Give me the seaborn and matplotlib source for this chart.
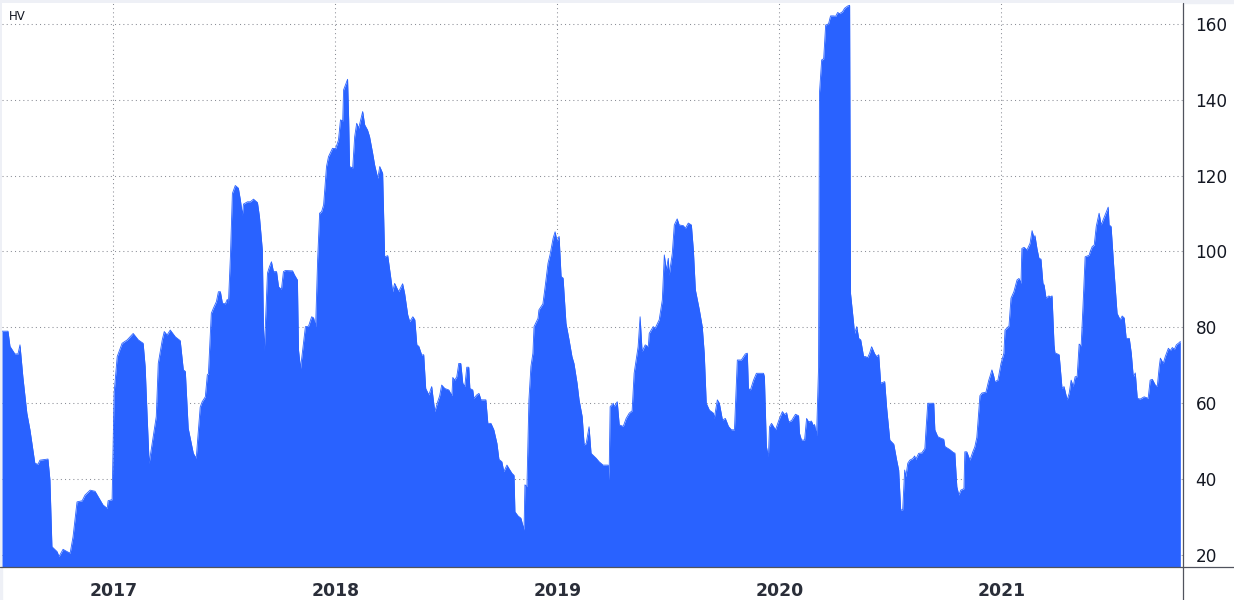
import matplotlib
matplotlib.use("Agg")
import matplotlib.pyplot as plt
import seaborn as sns
import pandas as pd
from matplotlib.lines import Line2D
from matplotlib.patches import Rectangle

# ---- data (time in decimal years, historical volatility values) ----
time_years = [
    2016.498, 2016.525, 2016.534, 2016.556, 2016.570, 2016.579, 2016.592, 2016.610, 2016.624, 2016.646,
    2016.660, 2016.669, 2016.705, 2016.714, 2016.723, 2016.746, 2016.755, 2016.773, 2016.791, 2016.805,
    2016.818, 2016.836, 2016.859, 2016.872, 2016.895, 2016.917, 2016.931, 2016.953, 2016.972, 2016.976,
    2016.994, 2017.003, 2017.017, 2017.039, 2017.062, 2017.089, 2017.112, 2017.134, 2017.143, 2017.152,
    2017.161, 2017.179, 2017.193, 2017.202, 2017.220, 2017.229, 2017.242, 2017.256, 2017.279, 2017.301,
    2017.315, 2017.324, 2017.337, 2017.360, 2017.373, 2017.391, 2017.400, 2017.414, 2017.423, 2017.428,
    2017.441, 2017.450, 2017.464, 2017.473, 2017.482, 2017.491, 2017.504, 2017.513, 2017.518, 2017.527,
    2017.536, 2017.549, 2017.563, 2017.572, 2017.581, 2017.586, 2017.604, 2017.617, 2017.631, 2017.649,
    2017.658, 2017.671, 2017.676, 2017.680, 2017.694, 2017.703, 2017.712, 2017.721, 2017.735, 2017.744,
    2017.757, 2017.766, 2017.775, 2017.807, 2017.816, 2017.829, 2017.834, 2017.843, 2017.856, 2017.865,
    2017.879, 2017.893, 2017.902, 2017.911, 2017.920, 2017.929, 2017.938, 2017.947, 2017.960, 2017.969,
    2017.987, 2018.001, 2018.014, 2018.023, 2018.033, 2018.037, 2018.051, 2018.055, 2018.060, 2018.064,
    2018.078, 2018.087, 2018.096, 2018.105, 2018.123, 2018.132, 2018.145, 2018.154, 2018.168, 2018.177,
    2018.191, 2018.200, 2018.213, 2018.222, 2018.236, 2018.249, 2018.258, 2018.267, 2018.285, 2018.303,
    2018.312, 2018.326, 2018.335, 2018.349, 2018.358, 2018.367, 2018.376, 2018.389, 2018.398, 2018.407,
    2018.421, 2018.434, 2018.439, 2018.448, 2018.461, 2018.470, 2018.479, 2018.493, 2018.511, 2018.525,
    2018.529, 2018.538, 2018.547, 2018.556, 2018.565, 2018.574, 2018.583, 2018.592, 2018.601, 2018.606,
    2018.619, 2018.624, 2018.637, 2018.647, 2018.656, 2018.678, 2018.687, 2018.701, 2018.714, 2018.728,
    2018.737, 2018.750, 2018.759, 2018.773, 2018.782, 2018.796, 2018.805, 2018.809, 2018.823, 2018.836,
    2018.850, 2018.854, 2018.863, 2018.872, 2018.881, 2018.890, 2018.895, 2018.913, 2018.917, 2018.935,
    2018.945, 2018.958, 2018.967, 2018.981, 2018.990, 2018.999, 2019.008, 2019.017, 2019.026, 2019.039,
    2019.053, 2019.066, 2019.075, 2019.089, 2019.098, 2019.112, 2019.121, 2019.130, 2019.143, 2019.152,
    2019.175, 2019.188, 2019.206, 2019.229, 2019.233, 2019.238, 2019.252, 2019.256, 2019.270, 2019.279,
    2019.297, 2019.310, 2019.324, 2019.337, 2019.346, 2019.364, 2019.373, 2019.382, 2019.396, 2019.410,
    2019.414, 2019.432, 2019.441, 2019.459, 2019.473, 2019.482, 2019.491, 2019.500, 2019.504, 2019.518,
    2019.527, 2019.540, 2019.549, 2019.568, 2019.577, 2019.590, 2019.604, 2019.613, 2019.622, 2019.640,
    2019.653, 2019.662, 2019.671, 2019.685, 2019.703, 2019.707, 2019.721, 2019.730, 2019.744, 2019.757,
    2019.771, 2019.784, 2019.798, 2019.811, 2019.829, 2019.847, 2019.856, 2019.861, 2019.870, 2019.884,
    2019.897, 2019.929, 2019.933, 2019.942, 2019.951, 2019.956, 2019.965, 2019.983, 2020.001, 2020.014,
    2020.024, 2020.033, 2020.042, 2020.055, 2020.073, 2020.087, 2020.091, 2020.100, 2020.114, 2020.123,
    2020.132, 2020.145, 2020.154, 2020.159, 2020.168, 2020.177, 2020.181, 2020.191, 2020.200, 2020.209,
    2020.222, 2020.231, 2020.245, 2020.254, 2020.263, 2020.272, 2020.285, 2020.294, 2020.308, 2020.317,
    2020.321, 2020.335, 2020.339, 2020.349, 2020.358, 2020.367, 2020.380, 2020.389, 2020.398, 2020.407,
    2020.416, 2020.430, 2020.439, 2020.448, 2020.457, 2020.475, 2020.484, 2020.498, 2020.516, 2020.529,
    2020.538, 2020.547, 2020.556, 2020.565, 2020.570, 2020.579, 2020.588, 2020.601, 2020.610, 2020.615,
    2020.628, 2020.642, 2020.656, 2020.660, 2020.669, 2020.696, 2020.701, 2020.714, 2020.728, 2020.741,
    2020.746, 2020.768, 2020.787, 2020.791, 2020.800, 2020.809, 2020.818, 2020.832, 2020.836, 2020.845,
    2020.859, 2020.872, 2020.881, 2020.890, 2020.904, 2020.913, 2020.931, 2020.944, 2020.949, 2020.958,
    2020.967, 2020.971, 2020.985, 2020.999, 2021.012, 2021.017, 2021.035, 2021.044, 2021.057, 2021.071,
    2021.080, 2021.089, 2021.093, 2021.103, 2021.116, 2021.130, 2021.139, 2021.148, 2021.152, 2021.161,
    2021.170, 2021.179, 2021.188, 2021.193, 2021.202, 2021.215, 2021.220, 2021.229, 2021.238, 2021.242,
    2021.261, 2021.265, 2021.274, 2021.283, 2021.297, 2021.306, 2021.315, 2021.324, 2021.333, 2021.342,
    2021.351, 2021.360, 2021.369, 2021.378, 2021.396, 2021.401, 2021.410, 2021.419, 2021.428, 2021.441,
    2021.450, 2021.459, 2021.468, 2021.482, 2021.486, 2021.495, 2021.509, 2021.522, 2021.536, 2021.545,
    2021.554, 2021.563, 2021.577, 2021.586, 2021.595, 2021.604, 2021.613, 2021.626, 2021.644, 2021.662,
    2021.671, 2021.681, 2021.694, 2021.703, 2021.712, 2021.717, 2021.730, 2021.739, 2021.753, 2021.762,
    2021.771, 2021.780, 2021.789, 2021.802, 2021.807,
]

hv_values = [
    79.0, 79.0, 75.0, 73.0, 73.0, 75.4, 67.0, 57.4, 53.0, 44.2,
    43.9, 45.0, 45.3, 39.8, 22.2, 20.9, 19.6, 21.5, 20.9, 20.5,
    24.8, 34.0, 34.3, 35.8, 37.1, 36.8, 35.4, 33.2, 32.3, 34.3,
    34.6, 62.6, 72.3, 75.8, 76.7, 78.4, 76.7, 75.8, 69.7, 56.5,
    44.2, 51.2, 56.5, 70.5, 76.7, 78.9, 78.0, 79.3, 77.5, 76.5,
    68.8, 68.4, 53.4, 46.8, 45.5, 59.0, 60.4, 61.7, 67.5, 67.8,
    83.7, 85.0, 86.8, 89.4, 89.4, 86.4, 86.2, 87.4, 86.2, 98.6,
    115.3, 117.4, 116.7, 113.6, 109.6, 112.5, 113.1, 113.1, 113.8, 112.9,
    109.2, 100.4, 80.2, 74.0, 94.3, 96.0, 97.3, 94.7, 94.7, 90.7,
    90.0, 94.7, 95.0, 94.9, 93.8, 92.5, 74.0, 69.2, 75.8, 80.2,
    80.3, 82.8, 82.5, 80.2, 97.8, 110.1, 110.5, 112.3, 122.4, 125.0,
    127.2, 127.1, 129.4, 134.7, 134.4, 142.6, 144.8, 145.4, 134.7, 122.4,
    122.0, 130.3, 133.8, 132.5, 136.9, 133.4, 132.0, 130.3, 125.9, 122.8,
    119.3, 122.4, 120.6, 98.6, 98.9, 93.4, 89.4, 91.6, 89.4, 91.5,
    89.0, 83.3, 81.5, 82.8, 82.0, 75.4, 75.0, 72.7, 72.8, 63.9,
    62.2, 64.4, 62.0, 57.8, 60.4, 62.0, 64.8, 63.9, 63.5, 62.0,
    66.8, 66.1, 67.0, 70.5, 70.5, 65.3, 64.4, 69.5, 69.5, 63.9,
    63.5, 61.3, 62.2, 62.6, 60.9, 60.9, 54.7, 54.7, 53.0, 49.4,
    45.2, 44.6, 42.0, 43.7, 42.8, 41.5, 41.0, 31.4, 30.3, 29.7,
    26.6, 38.5, 38.0, 60.9, 69.7, 73.2, 80.2, 82.4, 84.6, 86.2,
    90.7, 96.9, 99.1, 103.5, 105.2, 102.6, 104.0, 93.4, 93.0, 81.1,
    76.7, 72.3, 70.5, 65.3, 60.9, 56.5, 49.0, 49.4, 53.8, 46.8,
    45.5, 44.6, 43.7, 43.7, 39.8, 59.1, 60.0, 59.1, 60.4, 54.3,
    53.9, 56.0, 57.4, 58.0, 67.9, 74.9, 82.8, 73.6, 75.4, 74.9,
    78.4, 80.2, 79.8, 82.0, 87.2, 99.1, 95.1, 98.2, 93.8, 99.5,
    107.0, 108.6, 107.0, 106.8, 106.1, 107.5, 107.0, 100.4, 89.9, 84.6,
    80.2, 73.2, 60.0, 58.2, 57.4, 56.0, 60.9, 60.0, 55.6, 56.0,
    53.9, 53.0, 53.0, 71.4, 71.4, 73.0, 73.2, 63.9, 63.5, 66.1,
    67.9, 67.9, 67.0, 48.6, 45.9, 53.8, 54.7, 53.0, 56.0, 57.8,
    57.0, 57.5, 55.1, 55.4, 57.1, 56.7, 52.1, 50.3, 50.3, 56.0,
    55.1, 55.3, 54.0, 54.4, 51.5, 69.6, 141.7, 150.5, 150.8, 159.7,
    160.0, 162.1, 162.1, 162.0, 163.0, 162.7, 163.2, 164.1, 164.7, 164.9,
    89.0, 81.1, 78.4, 80.2, 77.1, 76.7, 72.3, 72.3, 72.0, 73.2,
    74.9, 73.0, 72.3, 72.8, 65.3, 65.7, 58.7, 50.3, 49.2, 45.0,
    42.4, 31.9, 31.9, 42.4, 40.6, 44.2, 45.0, 45.4, 46.1, 45.2,
    46.8, 46.9, 48.1, 52.1, 60.0, 60.0, 53.0, 51.2, 50.8, 50.5,
    48.6, 47.8, 46.9, 46.9, 38.0, 35.8, 37.1, 37.5, 47.2, 47.2,
    45.0, 47.2, 48.5, 51.0, 62.0, 62.7, 62.9, 66.1, 67.0, 68.8,
    67.0, 65.7, 66.1, 70.5, 73.2, 79.3, 80.4, 87.7, 89.4, 92.5,
    92.9, 91.6, 100.8, 101.1, 100.4, 102.2, 105.5, 103.5, 104.2, 100.8,
    98.2, 98.0, 91.6, 91.2, 87.7, 88.3, 88.0, 88.3, 75.4, 73.3,
    72.8, 70.1, 63.9, 64.4, 60.9, 62.6, 66.1, 64.4, 67.0, 67.0,
    75.6, 75.1, 86.4, 98.6, 99.0, 100.0, 101.3, 101.7, 106.6, 110.1,
    107.0, 108.3, 109.6, 111.7, 107.0, 106.6, 94.3, 83.7, 82.0, 83.0,
    82.5, 77.1, 77.1, 73.2, 67.0, 68.0, 61.3, 61.1, 61.7, 61.3,
    66.1, 66.3, 64.8, 64.4, 69.7, 71.9, 70.5, 72.3, 74.5, 73.9,
    74.7, 74.2, 75.4, 76.0, 76.3,
]

year_ticks = [2017, 2018, 2019, 2020, 2021]
year_labels = ["2017", "2018", "2019", "2020", "2021"]
value_ticks = [20, 40, 60, 80, 100, 120, 140, 160]
value_labels = ["20", "40", "60", "80", "100", "120", "140", "160"]
series_label = "HV"

# ---- styling ----
sns.set_theme(style="white")
plt.rcParams["font.family"] = ["DejaVu Sans"]

BLUE = "#2962ff"
TEXT = "#131722"
W, H = 1234, 600

fig = plt.figure(figsize=(W / 100, H / 100), dpi=100)
fig.patch.set_facecolor("white")
ax = fig.add_axes([2 / W, 33 / H, (1183 - 2) / W, (567 - 3) / H])
ax.set_facecolor("white")

df = pd.DataFrame({"t": time_years, "hv": hv_values})
y_lo, y_hi = 16.84, 165.5

ax.fill_between(df["t"], df["hv"], y_lo, color=BLUE, linewidth=0, zorder=2)
sns.lineplot(data=df, x="t", y="hv", ax=ax, color=BLUE, linewidth=0.6, zorder=3,
             estimator=None, sort=False)

ax.set_xlim(2016.498, 2021.819)
ax.set_ylim(y_lo, y_hi)
ax.set_xlabel("")
ax.set_ylabel("")

ax.set_xticks(year_ticks)
ax.set_xticklabels(year_labels)
ax.set_yticks(value_ticks)
ax.set_yticklabels(value_labels)
ax.yaxis.tick_right()

ax.set_axisbelow(True)
ax.grid(True, color="#8a8d96", linestyle=(0, (1.0, 3.0)), linewidth=0.75)

ax.tick_params(axis="y", length=0, pad=9, labelsize=12.2, labelcolor=TEXT)
ax.tick_params(axis="x", length=0, pad=11, labelsize=12.4, labelcolor="#2a2e39")
for lbl in ax.get_xticklabels():
    lbl.set_fontweight("bold")

for sp in ax.spines.values():
    sp.set_visible(False)

# pane borders and separators
fig.add_artist(Rectangle((0, 1 - 3 / H), 1, 3 / H, transform=fig.transFigure,
                         color="#eef0f6", zorder=0))
fig.add_artist(Rectangle((0, 0), 2 / W, 1, transform=fig.transFigure,
                         color="#eef0f6", zorder=0))
fig.add_artist(Line2D([0, 1], [33 / H, 33 / H], transform=fig.transFigure,
                      color="#50535e", linewidth=0.9))
fig.add_artist(Line2D([1183 / W, 1183 / W], [0, 1 - 3 / H], transform=fig.transFigure,
                      color="#50535e", linewidth=0.9))

fig.text(9 / W, 1 - 16 / H, series_label, fontsize=8.5, color=TEXT, va="center", ha="left")

fig.savefig("out.png", dpi=100)
